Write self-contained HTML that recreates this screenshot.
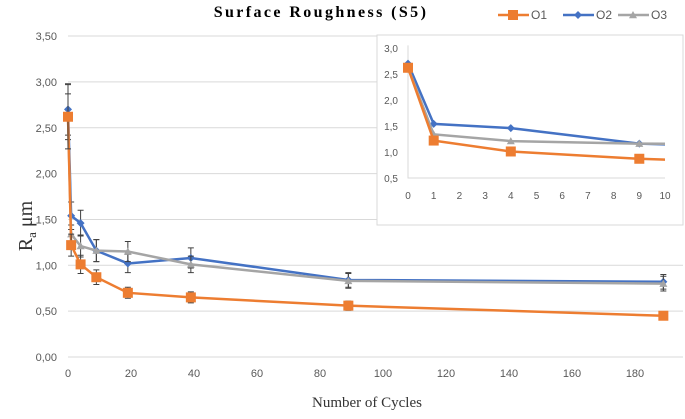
<!DOCTYPE html>
<html><head><meta charset="utf-8"><style>
body{margin:0;background:#fff;}
svg text{font-family:"Liberation Sans",sans-serif;}
</style></head><body>
<svg id="c" width="685" height="414" xmlns="http://www.w3.org/2000/svg">
<text x="321" y="17" text-anchor="middle" font-weight="bold" font-size="16" letter-spacing="2.4" style="font-family:'Liberation Serif',serif">Surface Roughness (S5)</text>
<text x="367" y="407" text-anchor="middle" font-size="15" style="font-family:'Liberation Serif',serif" fill="#333">Number of Cycles</text>
<text transform="translate(32,226) rotate(-90)" text-anchor="middle" font-size="20" style="font-family:'Liberation Serif',serif" fill="#333">R<tspan font-size="13" dy="4">a</tspan><tspan dy="-4"> μm</tspan></text>
<g id="main"></g>
<rect x="377" y="35" width="306" height="190" fill="#fff" stroke="#d9d9d9"/>
<g id="inset"></g>
<g id="legend"></g>
</svg>
<script>
const cycles=[0,1,4,9,19,39,89,189];
const o1=[2.62,1.22,1.01,0.87,0.70,0.65,0.56,0.45];
const o2=[2.70,1.54,1.46,1.16,1.02,1.08,0.84,0.82];
const o3=[2.62,1.34,1.21,1.16,1.15,1.01,0.83,0.80];
const e1=[0.35,0.12,0.10,0.08,0.06,0.06,0.05,0.03];
const e2=[0.28,0.15,0.14,0.12,0.10,0.11,0.08,0.08];
const e3=[0.25,0.10,0.12,0.12,0.11,0.09,0.08,0.08];
const yTicks=["0,00","0,50","1,00","1,50","2,00","2,50","3,00","3,50"];
const xTicks=[0,20,40,60,80,100,120,140,160,180];
const insetYTicks=["0,5","1,0","1,5","2,0","2,5","3,0"];
const insetXTicks=[0,1,2,3,4,5,6,7,8,9,10];
const names=["O1","O2","O3"];
const colors=["#ed7d31","#4472c4","#a5a5a5"];
const NS="http://www.w3.org/2000/svg";
function mk(p,t,a){const e=document.createElementNS(NS,t);for(const k in a)e.setAttribute(k,a[k]);p.appendChild(e);return e;}
const X=v=>68+v*3.15, Y=v=>357-v*91.7;
const main=document.getElementById('main');
yTicks.forEach((t,i)=>{const v=i*0.5;
 const g=mk(main,'line',{x1:68,x2:683,y1:Y(v),y2:Y(v),stroke:'#d9d9d9'});
 
 
 const tx=mk(main,'text',{x:57,y:Y(v)+4,'text-anchor':'end','font-size':11,fill:'#595959'});tx.textContent=t;
 
 });
xTicks.forEach(v=>{const tx=mk(main,'text',{x:X(v),y:377,'text-anchor':'middle','font-size':11,fill:'#595959'});tx.textContent=v;
 
 });
function marker(p,i,x,y,s){
 let m;
 if(i===0)m=mk(p,'rect',{x:x-s,y:y-s,width:2*s,height:2*s,fill:colors[0]});
 else if(i===1)m=mk(p,'polygon',{points:`${x},${y-s} ${x+s},${y} ${x},${y+s} ${x-s},${y}`,fill:colors[1]});
 else m=mk(p,'polygon',{points:`${x},${y-s} ${x+s},${y+s*0.8} ${x-s},${y+s*0.8}`,fill:colors[2]});
 
 
}
const series=[o1,o2,o3], errs=[e1,e2,e3];
[1,2,0].forEach(i=>{const d=series[i];
 const pl=mk(main,'polyline',{points:cycles.map((c,k)=>X(c)+','+Y(d[k])).join(' '),fill:'none',stroke:colors[i],'stroke-width':2.5});
 
 
 cycles.forEach((c,k)=>{const x=X(c),y1=Y(d[k]-errs[i][k]),y2=Y(d[k]+errs[i][k]);
  const eb=mk(main,'path',{d:`M${x},${y1}V${y2}M${x-3},${y1}h6M${x-3},${y2}h6`,stroke:'#404040','stroke-width':1,fill:'none'});
  
  
  marker(main,i,x,Y(d[k]),i===0?5:4);});
});
// inset
const ins=document.getElementById('inset');
const IX=v=>408+v*25.7, IY=v=>178-(v-0.5)*52;
insetYTicks.forEach((t,i)=>{const tx=mk(ins,'text',{x:398,y:IY(0.5+i*0.5)+4,'text-anchor':'end','font-size':10,fill:'#595959'});tx.textContent=t;
 
 });
insetXTicks.forEach(v=>{const tx=mk(ins,'text',{x:IX(v),y:199,'text-anchor':'middle','font-size':10,fill:'#595959'});tx.textContent=v;
 
 });
const ax=mk(ins,'path',{d:`M${IX(0)},${IY(3.05)}V${IY(0.5)}H${IX(10)}`,stroke:'#d9d9d9',fill:'none'});


mk(ins,'clipPath',{id:'ic'}).appendChild(document.createElementNS(NS,'rect'));
const cr=document.querySelector('#ic rect');cr.setAttribute('x',IX(0)-6);cr.setAttribute('y',30);cr.setAttribute('width',IX(10)-IX(0)+6);cr.setAttribute('height',170);
const ig=mk(ins,'g',{'clip-path':'url(#ic)'});
[1,2,0].forEach(i=>{const d=series[i];
 const pl=mk(ig,'polyline',{points:cycles.map((c,k)=>IX(c)+','+IY(d[k])).join(' '),fill:'none',stroke:colors[i],'stroke-width':2.5});
 
 
 cycles.forEach((c,k)=>{if(c<=10)marker(ig,i,IX(c),IY(d[k]),i===0?5:4);});
});
// legend
const lg=document.getElementById('legend');
[513,578,633].forEach((lx,i)=>{const g=mk(lg,'g',{});
 
 
 mk(g,'line',{x1:lx-15,x2:lx+16,y1:15,y2:15,stroke:colors[i],'stroke-width':2.5});
 marker(g,i,lx,15,i===0?5:4);
 const t=mk(g,'text',{x:lx+18,y:19,'font-size':12,fill:'#595959'});t.textContent=names[i];});
</script>
</body></html>
